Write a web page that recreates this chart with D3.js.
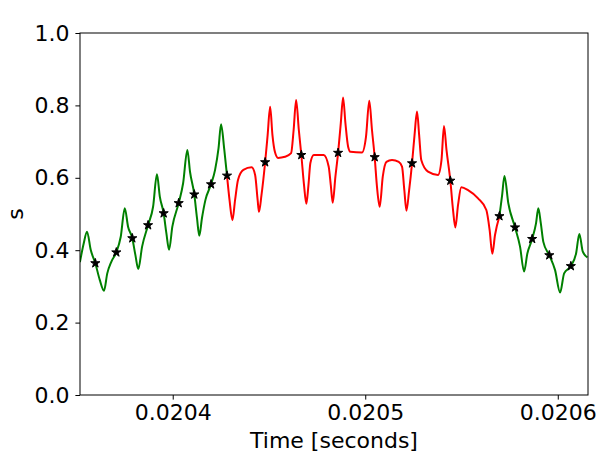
<!DOCTYPE html>
<html>
<head>
<meta charset="utf-8">
<script src="https://cdn.jsdelivr.net/npm/d3@7"></script>
<style>
  body { margin: 0; background: #fff; }
  svg { font-family: "DejaVu Sans", sans-serif; }
</style>
</head>
<body>
<svg width="609" height="463"></svg>
<script>
// time in seconds, s values
const greenTime1 = [0.0203518, 0.0203537, 0.0203555, 0.0203574, 0.0203598, 0.0203621, 0.0203643, 0.0203660, 0.0203681, 0.0203707,
    0.0203730, 0.0203751, 0.0203768, 0.0203790, 0.0203806, 0.0203821, 0.0203841, 0.0203872, 0.0203898, 0.0203918,
    0.0203933, 0.0203953, 0.0203967, 0.0203981, 0.0203998, 0.0204031, 0.0204054, 0.0204076, 0.0204090, 0.0204112,
    0.0204126, 0.0204138, 0.0204152, 0.0204170, 0.0204199, 0.0204220, 0.0204238, 0.0204251, 0.0204268, 0.0204282];
const greenS1 = [0.367, 0.417, 0.451, 0.401, 0.364, 0.318, 0.288, 0.336, 0.368, 0.394,
    0.437, 0.516, 0.465, 0.433, 0.387, 0.348, 0.410, 0.469, 0.520, 0.610,
    0.548, 0.502, 0.447, 0.401, 0.465, 0.530, 0.585, 0.677, 0.616, 0.554,
    0.489, 0.440, 0.489, 0.539, 0.582, 0.622, 0.682, 0.748, 0.677, 0.606];

const redTime = [0.0204282, 0.0204295, 0.0204310, 0.0204324, 0.0204339, 0.0204367, 0.0204410, 0.0204428, 0.0204441, 0.0204448,
    0.0204461, 0.0204480, 0.0204493, 0.0204506, 0.0204518, 0.0204531, 0.0204547, 0.0204583, 0.0204615, 0.0204628,
    0.0204641, 0.0204655, 0.0204668, 0.0204682, 0.0204694, 0.0204705, 0.0204715, 0.0204733, 0.0204784, 0.0204810,
    0.0204821, 0.0204831, 0.0204845, 0.0204859, 0.0204873, 0.0204885, 0.0204897, 0.0204911, 0.0204923, 0.0204983,
    0.0205004, 0.0205021, 0.0205035, 0.0205049, 0.0205061, 0.0205075, 0.0205091, 0.0205110, 0.0205139, 0.0205174,
    0.0205191, 0.0205203, 0.0205214, 0.0205228, 0.0205243, 0.0205256, 0.0205269, 0.0205280, 0.0205291, 0.0205326,
    0.0205378, 0.0205396, 0.0205409, 0.0205422, 0.0205442, 0.0205456, 0.0205468, 0.0205482, 0.0205499, 0.0205534,
    0.0205586, 0.0205629, 0.0205646, 0.0205660, 0.0205674, 0.0205697];
const redS = [0.606, 0.539, 0.483, 0.539, 0.594, 0.622, 0.629, 0.608, 0.539, 0.506,
    0.552, 0.643, 0.718, 0.796, 0.718, 0.671, 0.655, 0.658, 0.668, 0.732,
    0.815, 0.732, 0.663, 0.580, 0.528, 0.580, 0.641, 0.663, 0.663, 0.631,
    0.580, 0.531, 0.603, 0.669, 0.751, 0.822, 0.751, 0.686, 0.672, 0.670,
    0.714, 0.813, 0.732, 0.657, 0.575, 0.520, 0.603, 0.644, 0.649, 0.644,
    0.631, 0.566, 0.509, 0.566, 0.640, 0.718, 0.783, 0.718, 0.649, 0.617,
    0.608, 0.649, 0.743, 0.677, 0.592, 0.511, 0.463, 0.525, 0.574, 0.566,
    0.543, 0.511, 0.456, 0.390, 0.442, 0.494];

const greenTime2 = [0.0205697, 0.0205711, 0.0205723, 0.0205743, 0.0205778, 0.0205804, 0.0205825, 0.0205842, 0.0205867, 0.0205887,
    0.0205899, 0.0205912, 0.0205925, 0.0205956, 0.0205986, 0.0206012, 0.0206033, 0.0206068, 0.0206095, 0.0206112,
    0.0206130, 0.0206154];
const greenS2 = [0.494, 0.552, 0.605, 0.530, 0.463, 0.410, 0.341, 0.391, 0.431, 0.474,
    0.516, 0.474, 0.423, 0.386, 0.345, 0.283, 0.336, 0.356, 0.391, 0.445,
    0.396, 0.380];

// sampled points (stars)
const sampleTime = [0.0203598, 0.0203707, 0.0203790, 0.0203872, 0.0203953, 0.0204031, 0.0204112, 0.0204199, 0.0204282, 0.0204480,
    0.0204668, 0.0204859, 0.0205049, 0.0205243, 0.0205442, 0.0205697, 0.0205778, 0.0205867, 0.0205956, 0.0206068];
const sampleS = [0.364, 0.394, 0.433, 0.469, 0.502, 0.530, 0.554, 0.582, 0.606, 0.643,
    0.663, 0.669, 0.657, 0.640, 0.592, 0.494, 0.463, 0.431, 0.386, 0.356];

const xTicks = [0.0204, 0.0205, 0.0206];
const yTicks = [0, 0.2, 0.4, 0.6, 0.8, 1.0];

const margin = {left: 80, top: 33, right: 21, bottom: 68};
const width = 609 - margin.left - margin.right;
const height = 463 - margin.top - margin.bottom;
const fontSize = 22;

const svg = d3.select('svg');
const chart = svg.append('g')
    .attr('transform', `translate(${margin.left}, ${margin.top})`);

const xScale = d3.scaleLinear()
    .domain([0.02035184, 0.0206157])
    .range([0, width]);

const yScale = d3.scaleLinear()
    .domain([0, 1])
    .range([height, 0]);

chart.append('clipPath').attr('id', 'plot-clip')
    .append('rect').attr('width', width).attr('height', height);

const line = d3.line()
    .x(d => xScale(d[0]))
    .y(d => yScale(d[1]))
    .curve(d3.curveMonotoneX);

const segments = [
    {t: greenTime1, s: greenS1, color: 'green'},
    {t: redTime, s: redS, color: 'red'},
    {t: greenTime2, s: greenS2, color: 'green'}
];

const plot = chart.append('g').attr('clip-path', 'url(#plot-clip)');

plot.selectAll('path.seg')
    .data(segments)
    .enter()
    .append('path')
    .attr('class', 'seg')
    .attr('d', d => line(d.t.map((t, i) => [t, d.s[i]])))
    .attr('fill', 'none')
    .attr('stroke', d => d.color)
    .attr('stroke-width', 2);

plot.selectAll('path.star')
    .data(sampleTime.map((t, i) => [t, sampleS[i]]))
    .enter()
    .append('path')
    .attr('class', 'star')
    .attr('transform', d => `translate(${xScale(d[0])}, ${yScale(d[1])})`)
    .attr('d', d3.symbol(d3.symbolStar, 26))
    .attr('fill', 'black')
    .attr('stroke', 'black')
    .attr('stroke-width', 1);

// axes
const xAxis = chart.append('g')
    .attr('transform', `translate(0, ${height})`)
    .call(d3.axisBottom(xScale).tickValues(xTicks).tickFormat(d3.format('.4f')).tickSizeInner(4.6).tickSizeOuter(0).tickPadding(4.5));

const yAxis = chart.append('g')
    .call(d3.axisLeft(yScale).tickValues(yTicks).tickFormat(d3.format('.1f')).tickSizeInner(4.6).tickSizeOuter(0).tickPadding(6));

[xAxis, yAxis].forEach(ax => {
    ax.select('.domain').remove();
    ax.selectAll('text').attr('font-size', fontSize).attr('fill', 'black')
        .attr('font-family', '"DejaVu Sans", sans-serif');
    ax.selectAll('line').attr('stroke', 'black').attr('stroke-width', 1);
});

chart.append('rect')
    .attr('width', width)
    .attr('height', height)
    .attr('fill', 'none')
    .attr('stroke', 'black')
    .attr('stroke-width', 1);

chart.append('text')
    .attr('x', width / 2)
    .attr('y', height + 53)
    .attr('text-anchor', 'middle')
    .attr('font-size', fontSize)
    .text('Time [seconds]');

chart.append('text')
    .attr('transform', `translate(-57, ${height / 2}) rotate(-90)`)
    .attr('text-anchor', 'middle')
    .attr('font-size', fontSize)
    .text('s');
</script>
</body>
</html>
